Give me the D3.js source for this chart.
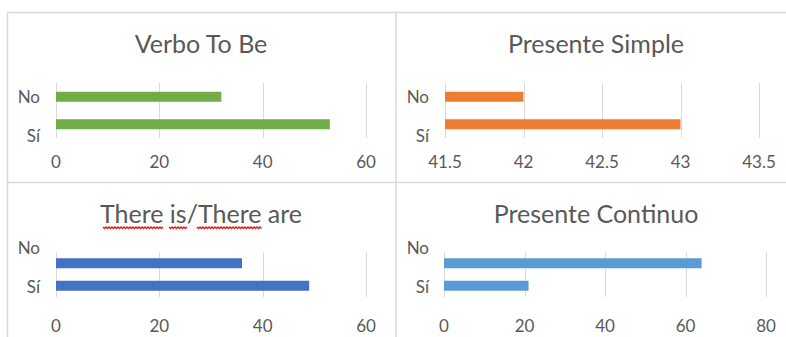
<!doctype html>
<html>
<head>
<meta charset='utf-8'>
<script src='https://cdn.jsdelivr.net/npm/d3@7/dist/d3.min.js'></script>
<style>
  body { margin: 0; background: #fff; }
  svg { display: block; }
  text { font-family: Lato, 'Open Sans', sans-serif; fill: #595959; }
</style>
</head>
<body>
<div id='chart'></div>
<script>

// data
const categories = ['Sí', 'No'];   // Sí at the bottom

const toBeValues     = [53, 32];
const simpleValues   = [43, 42];
const thereValues    = [49, 36];
const continuoValues = [21, 64];

const toBeTicks     = [0, 20, 40, 60];
const simpleTicks   = [41.5, 42, 42.5, 43, 43.5];
const thereTicks    = [0, 20, 40, 60];
const continuoTicks = [0, 20, 40, 60, 80];

const titles = ['Verbo To Be', 'Presente Simple', 'There is/There are', 'Presente Continuo'];

// layout for each panel (pixels)
const panels = [
  {title: titles[0], values: toBeValues, ticks: toBeTicks, color: '#70AD47',
   x0: 56, x1: 366, y0: 83, y1: 138, titleY: 53, tickY: 168, labY: {No: 103, 'Sí': 142}, labX: 40, cx: 201},
  {title: titles[1], values: simpleValues, ticks: simpleTicks, color: '#ED7D31',
   x0: 445, x1: 759, y0: 83, y1: 138, titleY: 53, tickY: 168, labY: {No: 103, 'Sí': 142}, labX: 429, cx: 596},
  {title: titles[2], values: thereValues, ticks: thereTicks, color: '#4472C4',
   x0: 56, x1: 366, y0: 252, y1: 297, titleY: 223, tickY: 332, labY: {No: 254, 'Sí': 293}, labX: 40, cx: 201},
  {title: titles[3], values: continuoValues, ticks: continuoTicks, color: '#5B9BD5',
   x0: 444, x1: 766, y0: 252, y1: 297, titleY: 223, tickY: 332, labY: {No: 254, 'Sí': 293}, labX: 429, cx: 596}
];

const W = 786, H = 337;
const svg = d3.select('#chart').append('svg')
  .attr('width', W)
  .attr('height', H);

// frame lines
const frame = svg.append('g')
  .attr('stroke', '#D9D9D9')
  .attr('stroke-width', 1.5)
  .attr('fill', 'none');
frame.append('path').attr('d', `M7.5,${H} V12.5 H${W}`);
frame.append('line').attr('x1', 396).attr('x2', 396).attr('y1', 12).attr('y2', H);
frame.append('line').attr('x1', 7).attr('x2', W).attr('y1', 182.5).attr('y2', 182.5);

panels.forEach(function(p){
  const g = svg.append('g');

  const x = d3.scaleLinear()
    .domain(d3.extent(p.ticks))
    .range([p.x0, p.x1]);
  const y = d3.scaleBand()
    .domain(['No', 'Sí'])
    .range([p.y0, p.y1]);
  const barH = 10;

  // title
  g.append('text')
    .attr('x', p.cx)
    .attr('y', p.titleY)
    .attr('text-anchor', 'middle')
    .style('font-size', '25px')
    .text(p.title);

  // grid
  g.selectAll('.grid')
    .data(p.ticks)
    .enter()
    .append('line')
    .attr('x1', d => Math.round(x(d)) + 0.5)
    .attr('x2', d => Math.round(x(d)) + 0.5)
    .attr('y1', p.y0)
    .attr('y2', p.y1)
    .attr('stroke', '#D9D9D9')
    .attr('stroke-width', 1);

  // tick labels
  g.selectAll('.tick')
    .data(p.ticks)
    .enter()
    .append('text')
    .attr('x', d => x(d))
    .attr('y', p.tickY)
    .attr('text-anchor', 'middle')
    .style('font-size', '17px')
    .text(d => d);

  // bars
  g.selectAll('.bar')
    .data(categories.map((c, i) => ({cat: c, v: p.values[i]})))
    .enter()
    .append('rect')
    .attr('x', x(p.ticks[0]))
    .attr('y', d => y(d.cat) + y.bandwidth() / 2 - barH / 2)
    .attr('width', d => x(d.v) - x(p.ticks[0]))
    .attr('height', barH)
    .attr('fill', p.color);

  // category labels
  g.selectAll('.cat')
    .data(categories)
    .enter()
    .append('text')
    .attr('x', p.labX)
    .attr('y', d => p.labY[d])
    .attr('text-anchor', 'end')
    .style('font-size', '17px')
    .text(d => d);
});

// red spell-check squiggles under the third title
function squiggle(xa, xb, yy){
  let d = `M${xa},${yy}`;
  for (let xx = xa + 1.5, k = 0; xx <= xb; xx += 1.5, k++) {
    d += ` L${xx},${yy + (k % 2 ? 0 : 1.5)}`;
  }
  svg.append('path')
    .attr('d', d)
    .attr('fill', 'none')
    .attr('stroke', '#E81818')
    .attr('stroke-width', 1.4);
}
squiggle(103, 164, 227);
squiggle(169, 187, 227);
squiggle(197, 262, 227);

</script>
</body>
</html>
